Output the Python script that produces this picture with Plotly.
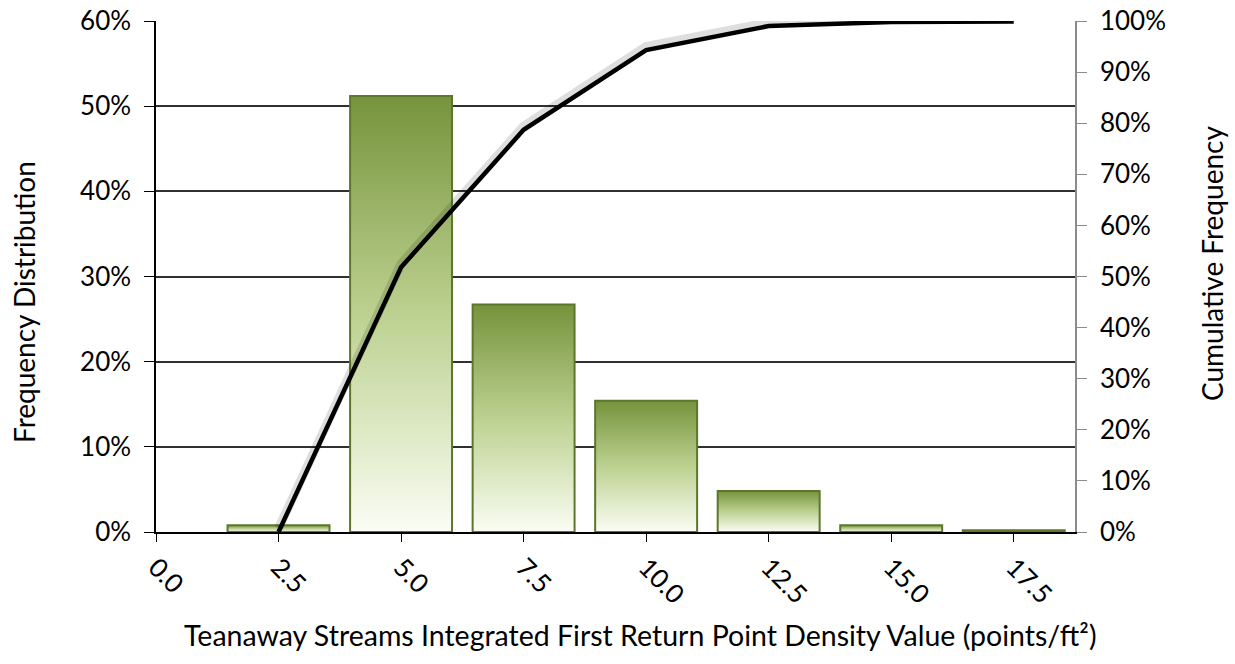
import plotly.graph_objects as go

# point density bins (points/ft²)
bins = [2.5, 5.0, 7.5, 10.0, 12.5, 15.0, 17.5]
freq_pct = [0.8, 51.2, 26.7, 15.4, 4.8, 0.8, 0.2]
cum_pct = [0.0, 51.8, 78.7, 94.3, 99.0, 99.8, 99.9]
x_ticks = [0.0, 2.5, 5.0, 7.5, 10.0, 12.5, 15.0, 17.5]

FONT = "Lato"
FS = 26      # tick labels
TS = 28.5    # axis titles
bar_w = 2.08

W, H = 1235, 664
L, R, T, B = 156, 160, 21, 132

fig = go.Figure()

# bars drawn as filled shapes so each can carry its own vertical gradient
for xc, v in zip(bins, freq_pct):
    fig.add_trace(go.Scatter(
        x=[xc - bar_w / 2, xc - bar_w / 2, xc + bar_w / 2, xc + bar_w / 2, xc - bar_w / 2],
        y=[0, v, v, 0, 0],
        mode="lines",
        fill="toself",
        fillgradient=dict(type="vertical",
                          colorscale=[[0, "#fbfdf4"], [0.5, "#bcd190"], [1, "#76933c"]]),
        line=dict(color="#5c772c", width=2),
        hoverinfo="skip",
        showlegend=False,
    ))

# soft shadow under the cumulative line
fig.add_trace(go.Scatter(
    x=bins, y=cum_pct, mode="lines", yaxis="y3",
    line=dict(color="rgba(0,0,0,0.13)", width=9),
    hoverinfo="skip", showlegend=False,
))

fig.add_trace(go.Scatter(
    x=bins, y=cum_pct, mode="lines", yaxis="y2",
    line=dict(color="black", width=4.5),
    name="Cumulative Frequency", showlegend=False,
))


def px_to_paper(x, y):
    return (x - L) / (W - L - R), (H - B - y) / (H - T - B)


titles = [
    ("Teanaway Streams Integrated First Return Point Density Value (points/ft²)", 640, 635, 0, TS),
    ("Frequency Distribution", 24, 302, -90, 28),
    ("Cumulative Frequency", 1212, 264, -90, 28),
]
annotations = []
for text, px, py, ang, size in titles:
    ax, ay = px_to_paper(px, py)
    annotations.append(dict(text=text, x=ax, y=ay, xref="paper", yref="paper",
                            xanchor="center", yanchor="middle", textangle=ang,
                            showarrow=False, font=dict(size=size)))

fig.update_layout(
    width=W, height=H,
    margin=dict(l=L, r=R, t=T, b=B),
    paper_bgcolor="white", plot_bgcolor="white",
    font=dict(family=FONT, size=FS, color="black"),
    xaxis=dict(
        range=[0, 18.75], tickvals=x_ticks,
        ticktext=[f"{t:.1f}" for t in x_ticks],
        tickangle=45, ticks="outside", ticklen=8, tickcolor="black",
        showline=True, linecolor="black", linewidth=1.5,
        showgrid=False, zeroline=False, automargin=False,
        ticklabeloverflow="allow",
    ),
    yaxis=dict(
        range=[0, 60], tickvals=[0, 10, 20, 30, 40, 50, 60],
        ticktext=["0%", "10%", "20%", "30%", "40%", "50%", "60%"],
        ticks="outside", ticklen=10, tickcolor="black",
        showline=True, linecolor="black", linewidth=1.5,
        showgrid=True, gridcolor="#303030", gridwidth=1.5,
        zeroline=False, ticklabelstandoff=8, automargin=False,
        ticklabeloverflow="allow",
    ),
    yaxis2=dict(
        range=[0, 100], overlaying="y", side="right",
        tickvals=list(range(0, 101, 10)),
        ticktext=[f"{t}%" for t in range(0, 101, 10)],
        ticks="outside", ticklen=10, tickcolor="#8c8c8c",
        showline=True, linecolor="#8c8c8c", linewidth=1.5,
        showgrid=False, zeroline=False, ticklabelstandoff=8, automargin=False,
        ticklabeloverflow="allow",
    ),
    yaxis3=dict(range=[-0.7, 99.3], overlaying="y", visible=False),
    annotations=annotations,
)

# drop the default page margin so the figure sits at the window's corner
fig.write_html("out.html", config={"displayModeBar": False},
               post_script="document.body.style.margin = '0';")
